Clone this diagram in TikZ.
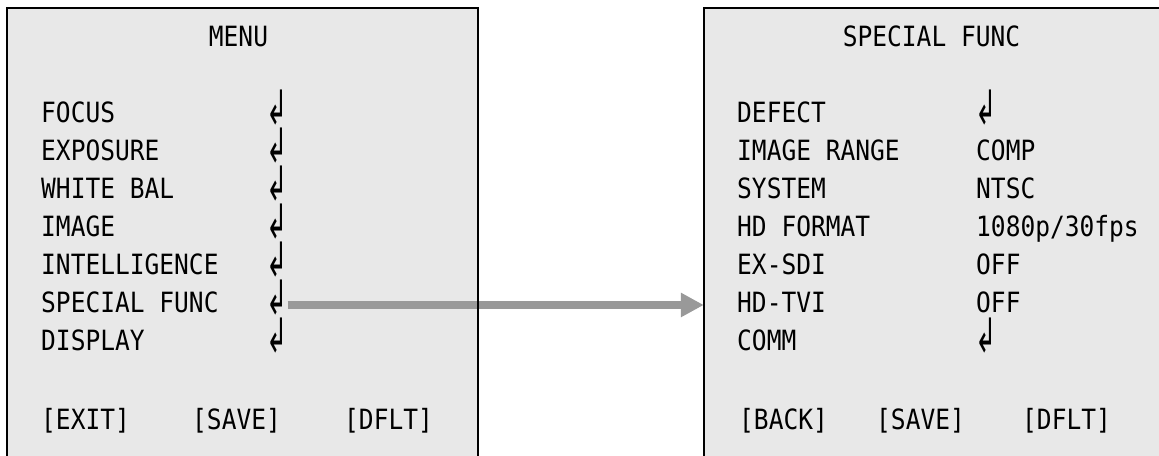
\documentclass[tikz,border=0pt]{standalone}
\usepackage{fontspec}
\newfontfamily\osdfont[FakeStretch=0.88]{DejaVu Sans Mono}
\newfontfamily\osdsym{DejaVu Sans}
\usetikzlibrary{arrows.meta}
\definecolor{osdback}{RGB}{232,232,232}
\definecolor{osdgray}{RGB}{153,153,153}
\newcommand{\ret}{\scalebox{0.75}[1.4]{\osdsym\fontsize{34}{34}\selectfont ↲}}

\begin{document}
\begin{tikzpicture}[x=1bp,y=-1bp,
  screen/.style={fill=osdback, inner sep=0pt, minimum width=470bp, minimum height=470bp},
  osdtext/.style={inner sep=0pt, font=\osdfont\fontsize{28}{28}\selectfont},
  item/.style={osdtext, anchor=base west},
  heading/.style={osdtext, anchor=base}]
\useasboundingbox (0,0) rectangle (1159,456);
\node[screen] (menu) at (242.5,243) {};
\node[screen, minimum width=462bp] (spec) at (935,243) {};
% left screen
\node[heading] (menutitle) at (238.5,46.5) {MENU};
\node[item] (focus) at (41,123) {FOCUS};
\node[item] (expo) at (41,161) {EXPOSURE};
\node[item] (white) at (41,199) {WHITE BAL};
\node[item] (image) at (41,237) {IMAGE};
\node[item] (intel) at (41,275) {INTELLIGENCE};
\node[item] (func) at (41,313) {SPECIAL FUNC};
\node[item] (disp) at (41,351) {DISPLAY};
\node[item] (r1) at (266,125) {\ret};
\node[item] (r2) at (266,163) {\ret};
\node[item] (r3) at (266,201) {\ret};
\node[item] (r4) at (266,239) {\ret};
\node[item] (r5) at (266,277) {\ret};
\node[item] (r6) at (266,315) {\ret};
\node[item] (r7) at (266,353) {\ret};
\node[item] (exit) at (41,430) {[EXIT]};
\node[item] (save) at (192,430) {[SAVE]};
\node[item] (dflt) at (344,430) {[DFLT]};
% right screen
\node[heading] (spectitle) at (931.5,46.5) {SPECIAL FUNC};
\node[item] (defect) at (737,123) {DEFECT};
\node[item] (range) at (737,161) {IMAGE RANGE};
\node[item] (system) at (737,199) {SYSTEM};
\node[item] (hdfmt) at (737,237) {HD FORMAT};
\node[item] (exsdi) at (737,275) {EX-SDI};
\node[item] (hdtvi) at (737,313) {HD-TVI};
\node[item] (comm) at (737,351) {COMM};
\node[item] (v1) at (975,125) {\ret};
\node[item] (v2) at (976,161) {COMP};
\node[item] (v3) at (976,199) {NTSC};
\node[item] (v4) at (976,237) {1080p/30fps};
\node[item] (v5) at (976,275) {OFF};
\node[item] (v6) at (976,313) {OFF};
\node[item] (v7) at (975,353) {\ret};
\node[item] (back) at (739,430) {[BACK]};
\node[item] (save2) at (876,430) {[SAVE]};
\node[item] (dflt2) at (1022,430) {[DFLT]};
\coordinate (tail) at ([yshift=10bp]r6.base east);
\draw[osdgray, line width=8bp, -{Triangle[length=23bp,width=23bp]}] (tail) -- (tail -| spec.west);
\draw[line width=2bp] (menu.north west) rectangle (menu.south east);
\draw[line width=2bp] (spec.north west) rectangle (spec.south east);
\end{tikzpicture}
\end{document}
